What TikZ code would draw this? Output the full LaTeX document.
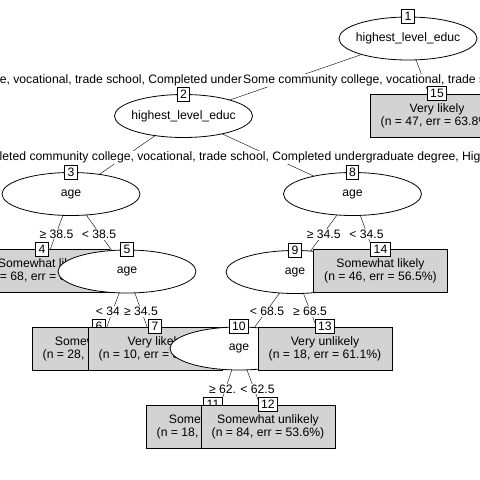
\documentclass[tikz,border=0pt]{standalone}
\usepackage{fontspec}
\setmainfont{Liberation Sans}
\usepackage{tikz}
\usetikzlibrary{shapes.geometric, backgrounds}
\definecolor{leafgray}{RGB}{211, 211, 211}
\newcommand{\inside}[1]{\makebox[0pt]{#1}}

\begin{document}
\begin{tikzpicture}[x=1pt, y=-1pt, line width=0.8pt,
  font=\fontsize{12.2pt}{13pt}\selectfont,
  splitnode/.style={draw, ellipse, fill=white, inner sep=0pt,
                    minimum width=138pt, minimum height=43pt},
  leafnode/.style={draw, rectangle, fill=leafgray, inner sep=0pt, align=center,
                   minimum width=134pt, minimum height=43pt},
  idbox/.style={draw, fill=white, anchor=center, inner xsep=3pt, inner ysep=0pt,
                minimum height=14pt},
  cutlabel/.style={fill=white, inner sep=1pt, yshift=-1.5pt},
  agelabel/.style={cutlabel, inner xsep=5pt}]

\useasboundingbox (0,0) rectangle (480,480);
\clip (0,0) rectangle (480,480);

% root split
\node[splitnode, label={[idbox]90:1}] (n1) at (408,38.5) {\inside{highest\_level\_educ}};

% left branch -- second education split
\node[splitnode, label={[idbox]90:2}] (n2) at (183.5,116) {\inside{highest\_level\_educ}};

% age split under node 3
\node[splitnode, label={[idbox]90:3}] (n3) at (71,194) {\inside{age}};
\node[leafnode, label={[idbox]90:4}] (n4) at (42,271) {Somewhat likely\\(n = 68, err = 36.8\%)};
\node[splitnode, label={[idbox]90:5}] (n5) at (127,271.5) {\inside{age}};
\node[leafnode, label={[idbox]90:6}] (n6) at (99,348.5) {Somewhat likely\\(n = 28, err = 53.6\%)};
\node[leafnode, label={[idbox]90:7}] (n7) at (155,348.5) {Very likely\\(n = 10, err = 30.0\%)};

% age split under node 8
\node[splitnode, label={[idbox]90:8}] (n8) at (352.5,194) {\inside{age}};
\node[splitnode, label={[idbox]90:9}] (n9) at (295,272) {\inside{age}};
\node[splitnode, label={[idbox]90:10}] (n10) at (239,348.5) {\inside{age}};
\node[leafnode, label={[idbox]90:11}] (n11) at (213,426.5) {Somewhat likely\\(n = 18, err = 55.6\%)};
\node[leafnode, label={[idbox]90:12}] (n12) at (268,426.5) {Somewhat unlikely\\(n = 84, err = 53.6\%)};
\node[leafnode, label={[idbox]90:13}] (n13) at (325,348.5) {Very unlikely\\(n = 18, err = 61.1\%)};
\node[leafnode, label={[idbox]90:14}] (n14) at (380.5,271) {Somewhat likely\\(n = 46, err = 56.5\%)};

% right branch
\node[leafnode, label={[idbox]90:15}] (n15) at (437,115.5) {Very likely\\(n = 47, err = 63.8\%)};

% edges, centre to centre, under the nodes
\begin{pgfonlayer}{background}
\begin{scope}
\clip (0,0) rectangle (480,480);
\draw (n1.center) -- (n2.center);
\draw (n2.center) -- (n3.center);
\draw (n3.center) -- node[agelabel] {≥ 38.5} (n4.center);
\draw (n3.center) -- node[agelabel] {< 38.5} (n5.center);
\draw (n5.center) -- node[agelabel] {< 34.5} (n6.center);
\draw (n5.center) -- node[agelabel] {≥ 34.5} (n7.center);
\draw (n2.center) -- (n8.center);
\draw (n8.center) -- node[agelabel] {≥ 34.5} (n9.center);
\draw (n9.center) -- node[agelabel] {< 68.5} (n10.center);
\draw (n10.center) -- node[agelabel] {≥ 62.5} (n11.center);
\draw (n10.center) -- node[agelabel, xshift=4pt] {< 62.5} (n12.center);
\draw (n9.center) -- node[agelabel] {≥ 68.5} (n13.center);
\draw (n8.center) -- node[agelabel] {< 34.5} (n14.center);
\draw (n1.center) -- (n15.center);

% long level lists on the education splits
\node[cutlabel, anchor=west] (lab2) at (-158,79) {Completed community college, vocational, trade school, Completed undergraduate degree, High school graduate};
\node[cutlabel, anchor=west] (lab15) at (242,79) {Some community college, vocational, trade school};
\node[cutlabel, anchor=west] (lab8) at (-34,156) {Completed community college, vocational, trade school, Completed undergraduate degree, High school graduate};
\end{scope}
\end{pgfonlayer}

\end{tikzpicture}
\end{document}
